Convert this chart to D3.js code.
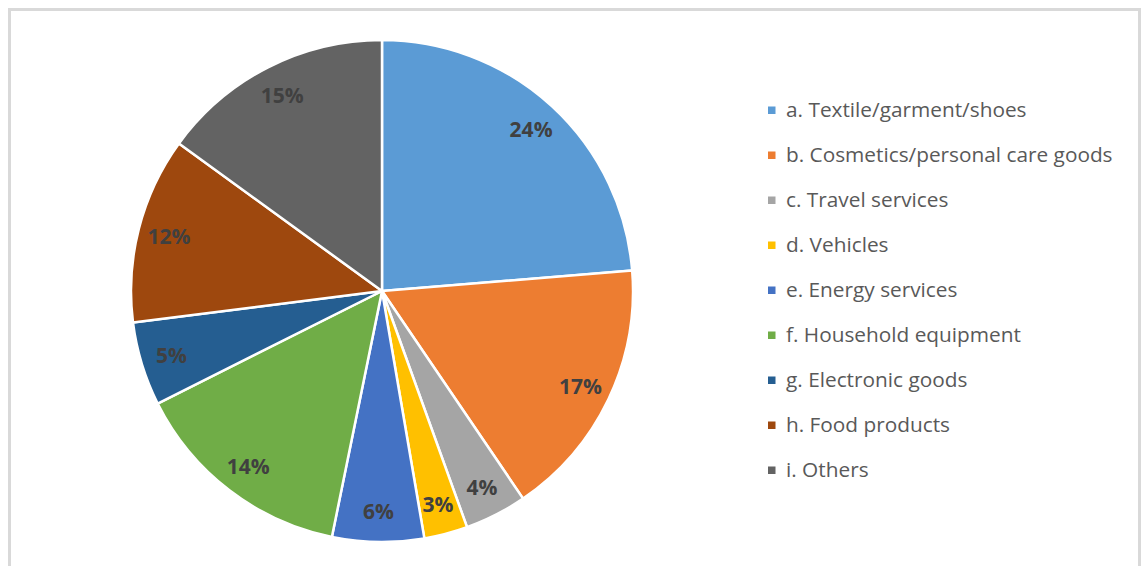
<!DOCTYPE html>
<meta charset="utf-8">
<style>
body { margin: 0; background: #fff; }
svg { display: block; }
.legend text {
  font-family: "Open Sans", sans-serif;
  font-size: 20.8px;
  fill: #595959;
}
.labels text {
  font-family: "Open Sans", sans-serif;
  font-size: 21px;
  font-weight: bold;
  fill: #404040;
}
</style>
<svg></svg>
<script src="https://cdn.jsdelivr.net/npm/d3@7"></script>
<script>

// shares (%)
var categories = ["a. Textile/garment/shoes", "b. Cosmetics/personal care goods", "c. Travel services",
                  "d. Vehicles", "e. Energy services", "f. Household equipment",
                  "g. Electronic goods", "h. Food products", "i. Others"];
var shares = [23.7, 16.8, 4.0, 2.8, 5.9, 14.4, 5.4, 12.0, 15.0];
var colors = ["#5B9BD5", "#ED7D31", "#A5A5A5", "#FFC000", "#4472C4", "#70AD47", "#255E91", "#9E480E", "#636363"];

var width = 1141,
    height = 566;

var svg = d3.select("svg")
    .attr("width", width)
    .attr("height", height);

// chart area frame
svg.append("rect")
    .attr("x", 9.5)
    .attr("y", 9.5)
    .attr("width", 1130)
    .attr("height", 620)
    .attr("fill", "none")
    .attr("stroke", "#d9d9d9")
    .attr("stroke-width", 3);

var cx = 382, cy = 291, r = 251;

var total = d3.sum(shares);
var data = categories.map(function(c, i) { return {name: c, value: shares[i], color: colors[i]}; });

var pie = d3.pie()
    .sort(null)
    .value(function(d) { return d.value; });

var arc = d3.arc()
    .innerRadius(0)
    .outerRadius(r);

var labelArc = d3.arc()
    .innerRadius(220)
    .outerRadius(220);

var g = svg.append("g")
    .attr("transform", "translate(" + cx + "," + cy + ")");

var arcs = pie(data);

g.append("g")
    .attr("class", "slices")
  .selectAll("path")
  .data(arcs)
  .enter().append("path")
    .attr("d", arc)
    .attr("fill", function(d) { return d.data.color; })
    .attr("stroke", "#fff")
    .attr("stroke-width", 2.5)
    .attr("stroke-linejoin", "round");

g.append("g")
    .attr("class", "labels")
  .selectAll("text")
  .data(arcs)
  .enter().append("text")
    .attr("transform", function(d) { return "translate(" + labelArc.centroid(d) + ")"; })
    .attr("text-anchor", "middle")
    .attr("dy", "0.38em")
    .text(function(d) { return Math.round(d.data.value / total * 100) + "%"; });

// legend
var legendY = d3.scalePoint()
    .domain(categories)
    .range([110, 470]);

var legend = svg.append("g")
    .attr("class", "legend")
  .selectAll("g")
  .data(data)
  .enter().append("g")
    .attr("transform", function(d) { return "translate(768," + legendY(d.name) + ")"; });

legend.append("rect")
    .attr("x", 0)
    .attr("y", -3.5)
    .attr("width", 7.5)
    .attr("height", 7.5)
    .attr("fill", function(d) { return d.color; });

legend.append("text")
    .attr("x", 18)
    .attr("dy", "0.35em")
    .text(function(d) { return d.name; });

</script>
